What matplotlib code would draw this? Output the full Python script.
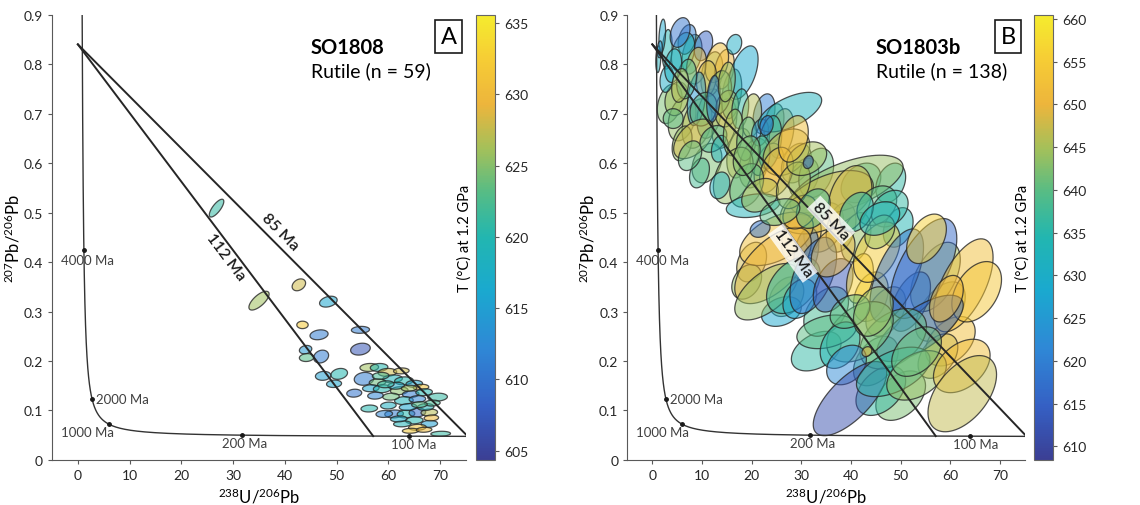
import numpy as np
import matplotlib
matplotlib.use("Agg")
import matplotlib.pyplot as plt
from matplotlib.patches import Polygon
from matplotlib.colors import LinearSegmentedColormap, Normalize
from matplotlib.cm import ScalarMappable

plt.rcParams['font.family'] = ['Lato', 'DejaVu Sans']
plt.rcParams['mathtext.default'] = 'regular'

# --- SO1808 rutile: centre, half-widths (x, y), error correlation, temperature
a_x = [26.8, 35.0, 42.7, 48.4, 43.4, 46.6, 54.6, 54.6, 44.0, 44.2, 47.0, 47.4, 50.5, 49.5, 53.4, 56.3, 70.1,
       56.3, 58.2, 55.3, 59.8, 60.8, 57.9, 63.0, 65.0, 66.3, 56.6, 58.8, 62.1, 64.3, 66.9, 69.5, 63.0,
       65.6, 61.1, 63.4, 65.6, 67.9, 63.8, 67.2, 65.0, 67.9, 62.7, 65.6, 64.3, 66.9, 59.2, 60.0, 58.5,
       61.5, 62.5, 60.5, 57.5, 68.5, 64.0, 62.0, 68.3, 66.0, 59.5]
a_y = [0.509, 0.322, 0.354, 0.320, 0.273, 0.253, 0.263, 0.224, 0.223, 0.207, 0.209, 0.170, 0.174, 0.154, 0.135, 0.104, 0.053,
       0.187, 0.187, 0.164, 0.177, 0.164, 0.157, 0.160, 0.154, 0.147, 0.145, 0.144, 0.140, 0.133, 0.137, 0.127, 0.120,
       0.123, 0.093, 0.093, 0.096, 0.096, 0.107, 0.107, 0.080, 0.073, 0.073, 0.066, 0.059, 0.061, 0.093, 0.110, 0.170,
       0.150, 0.180, 0.128, 0.130, 0.115, 0.145, 0.083, 0.085, 0.112, 0.153]
a_sx = [1.4, 1.95, 1.3, 1.7, 1.1, 1.75, 1.75, 1.9, 1.2, 1.4, 1.45, 1.5, 1.6, 1.45, 1.45, 1.6, 1.9,
        1.8, 1.7, 1.9, 1.8, 1.9, 1.6, 1.8, 1.6, 1.5, 1.6, 1.7, 1.7, 1.6, 1.6, 1.9, 1.8,
        1.6, 1.8, 1.7, 1.6, 1.6, 1.7, 1.6, 1.7, 1.6, 1.7, 1.7, 1.6, 1.5, 1.6, 1.5, 1.6,
        1.6, 1.5, 1.6, 1.5, 1.5, 1.5, 1.6, 1.4, 1.5, 1.6]
a_sy = [0.018, 0.019, 0.012, 0.011, 0.0075, 0.010, 0.007, 0.012, 0.0085, 0.008, 0.013, 0.009, 0.011, 0.0075, 0.008, 0.007, 0.005,
        0.008, 0.008, 0.013, 0.008, 0.008, 0.007, 0.008, 0.007, 0.006, 0.007, 0.008, 0.008, 0.007, 0.007, 0.008, 0.008,
        0.007, 0.008, 0.008, 0.009, 0.007, 0.007, 0.007, 0.007, 0.007, 0.006, 0.006, 0.005, 0.005, 0.007, 0.007, 0.007,
        0.007, 0.006, 0.007, 0.007, 0.006, 0.006, 0.006, 0.006, 0.006, 0.007]
a_rho = [0.75, 0.7, 0.3, 0.3, 0.0, 0.2, 0.1, 0.2, 0.2, 0.1, 0.2, 0.1, 0.2, 0.1, 0.1, 0.1, 0.1] + [0.1] * 42
a_temp = [621, 626, 628, 616, 632, 611, 611, 607, 614, 623, 611, 615, 620, 616, 610, 620, 621,
          626, 620, 611, 628, 619, 624, 620, 616, 631, 616, 620, 625, 611, 620, 621, 619,
          612, 611, 620, 609, 627, 616, 619, 620, 615, 619, 631, 632, 630, 612, 618, 622,
          617, 628, 624, 612, 622, 626, 617, 630, 623, 621]

# --- SO1803b rutile (drawn in list order, first ones lie underneath)
b_x = [3.5, 6.0, 9.0, 11.5, 14.5, 16.0, 8.0, 12.0, 14.5, 7.0, 11.0, 9.5, 6.0, 17.5, 20.5, 22.5, 24.5, 26.0,
       23.5, 29.0, 30.5, 33.0, 34.5, 30.0, 38.0, 41.0, 42.0, 48.0, 49.5, 44.0, 47.0, 58.0, 57.0, 60.0, 57.5,
       33.0, 35.0, 45.0, 50.0, 46.0, 27.0, 20.0, 19.0, 26.0, 31.0, 3.0, 52.0, 16.5,
       2.0, 1.2, 6.2, 5.6, 10.3, 8.9, 13.0, 10.9, 8.9, 4.9, 4.2, 6.9, 18.3, 13.6, 15.0, 17.7, 20.0, 10.3,
       8.3, 7.6, 12.3, 13.6, 16.3, 19.0, 21.7, 27.7, 23.7, 21.7, 27.0, 25.0, 16.3, 13.6, 19.0, 20.3, 21.7,
       39.1, 35.1, 39.8, 45.2, 47.8, 25.0, 24.3, 23.0, 28.4, 29.7, 32.4, 36.4, 36.4, 41.8, 45.2, 49.2,
       54.6, 62.6, 65.3, 53.9, 48.5, 41.8, 35.1, 37.8, 39.1, 39.8, 48.5, 53.2, 62.3, 62.4, 39.8, 44.5,
       53.2, 45.8, 29.7, 28.4, 32.4, 41.1, 45.8, 31.1, 2.9, 4.2, 5.6, 12.3, 15.0, 23.0, 31.4, 43.2,
       21.7, 28.4, 25.7, 19.0, 1.5, 55.2, 59.2]
b_y = [0.720, 0.690, 0.680, 0.700, 0.680, 0.740, 0.820, 0.780, 0.790, 0.850, 0.600, 0.580, 0.640, 0.620, 0.600, 0.700, 0.680, 0.660,
       0.590, 0.600, 0.570, 0.580, 0.470, 0.450, 0.470, 0.450, 0.560, 0.560, 0.470, 0.330, 0.300, 0.300, 0.370, 0.240, 0.210,
       0.220, 0.300, 0.200, 0.130, 0.140, 0.330, 0.400, 0.360, 0.300, 0.420, 0.830, 0.320, 0.840,
       0.857, 0.810, 0.824, 0.864, 0.837, 0.797, 0.803, 0.770, 0.730, 0.730, 0.690, 0.770, 0.783, 0.743, 0.710, 0.710, 0.696, 0.709,
       0.649, 0.615, 0.649, 0.629, 0.662, 0.649, 0.662, 0.703, 0.642, 0.615, 0.622, 0.582, 0.575, 0.555, 0.555, 0.514, 0.535,
       0.555, 0.521, 0.528, 0.514, 0.508, 0.447, 0.393, 0.340, 0.353, 0.326, 0.373, 0.353, 0.420, 0.367, 0.420, 0.373,
       0.387, 0.353, 0.340, 0.266, 0.245, 0.259, 0.259, 0.232, 0.192, 0.124, 0.178, 0.171, 0.190, 0.134, 0.300, 0.300,
       0.219, 0.461, 0.501, 0.555, 0.508, 0.501, 0.488, 0.609, 0.770, 0.797, 0.757, 0.730, 0.764, 0.676, 0.602, 0.219,
       0.467, 0.649, 0.501, 0.615, 0.830, 0.447, 0.326]
b_sx = [2.5, 2.8, 3.0, 2.5, 2.5, 2.0, 2.0, 2.2, 2.0, 1.8, 3.0, 2.0, 2.0, 2.5, 3.0, 2.2, 2.0, 2.5,
        3.0, 3.0, 3.0, 3.5, 4.0, 4.0, 3.0, 3.0, 4.0, 3.0, 3.0, 3.5, 4.0, 5.0, 5.0, 5.0, 4.0,
        5.0, 4.5, 4.5, 5.0, 5.0, 3.5, 3.0, 3.0, 4.0, 2.5, 1.0, 4.0, 1.5,
        0.67, 0.5, 2.35, 2.0, 1.85, 2.0, 2.35, 2.0, 1.85, 2.35, 2.0, 2.0, 3.0, 2.35, 2.35, 1.7, 2.0, 2.7,
        4.0, 2.35, 2.7, 1.7, 2.0, 2.0, 1.7, 6.4, 2.35, 2.0, 4.7, 3.4, 4.0, 2.0, 3.4, 5.4, 3.7,
        11.4, 9.4, 4.4, 4.0, 3.7, 7.4, 7.7, 6.4, 5.4, 3.4, 4.7, 4.0, 4.4, 2.7, 4.7, 5.4,
        6.7, 6.0, 5.0, 8.7, 6.7, 6.7, 6.0, 4.0, 4.0, 7.4, 7.4, 6.0, 5.7, 6.9, 4.0, 4.0,
        5.0, 3.0, 3.4, 3.4, 3.4, 3.4, 4.0, 4.0, 1.35, 1.7, 1.7, 1.35, 1.7, 1.35, 1.0, 1.0,
        2.0, 3.0, 4.0, 2.7, 0.5, 4.0, 3.4]
b_sy = [0.040, 0.045, 0.050, 0.050, 0.050, 0.050, 0.040, 0.045, 0.040, 0.030, 0.040, 0.030, 0.035, 0.050, 0.050, 0.040, 0.040, 0.050,
        0.050, 0.040, 0.040, 0.050, 0.050, 0.050, 0.050, 0.050, 0.040, 0.040, 0.040, 0.050, 0.050, 0.060, 0.070, 0.050, 0.045,
        0.040, 0.050, 0.050, 0.050, 0.050, 0.040, 0.040, 0.035, 0.030, 0.050, 0.040, 0.060, 0.020,
        0.034, 0.027, 0.040, 0.030, 0.030, 0.037, 0.040, 0.037, 0.054, 0.034, 0.020, 0.040, 0.054, 0.044, 0.037, 0.040, 0.044, 0.034,
        0.040, 0.030, 0.027, 0.027, 0.047, 0.044, 0.027, 0.040, 0.054, 0.040, 0.047, 0.050, 0.057, 0.027, 0.044, 0.024, 0.034,
        0.061, 0.064, 0.067, 0.040, 0.037, 0.054, 0.077, 0.057, 0.057, 0.040, 0.077, 0.054, 0.050, 0.050, 0.061, 0.094,
        0.101, 0.094, 0.061, 0.067, 0.061, 0.061, 0.034, 0.047, 0.040, 0.075, 0.050, 0.050, 0.054, 0.077, 0.034, 0.050,
        0.050, 0.034, 0.034, 0.047, 0.040, 0.040, 0.034, 0.034, 0.027, 0.034, 0.034, 0.047, 0.040, 0.020, 0.013, 0.010,
        0.017, 0.047, 0.027, 0.040, 0.017, 0.050, 0.047]
b_rho = [0.3] * 29 + [0.3, 0.4, 0.5, 0.5, 0.4, 0.4, 0.4, 0.4, 0.4, 0.4, 0.4, 0.3, 0.3, 0.3, 0.3, 0.3, 0.2, 0.5, 0.2] + \
        [0.3, 0.2, 0.3, 0.3, 0.3, 0.2, 0.3, 0.2, 0.3, 0.2, 0.0, 0.2, 0.5, 0.2, 0.2, 0.2, 0.2, 0.2,
         0.5, 0.3, 0.3, 0.2, 0.2, 0.2, 0.2, 0.6, 0.3, 0.2, 0.3, 0.3, 0.4, 0.2, 0.3, 0.3, 0.3,
         0.6, 0.5, 0.3, 0.3, 0.3, 0.5, 0.6, 0.6, 0.4, 0.3, 0.5, 0.4, 0.3, 0.3, 0.4, 0.6,
         0.6, 0.6, 0.4, 0.7, 0.4, 0.4, 0.3, 0.3, 0.3, 0.7, 0.5, 0.4, 0.4, 0.5, 0.3, 0.3,
         0.4, 0.3, 0.3, 0.3, 0.3, 0.3, 0.3, 0.3, 0.2, 0.2, 0.2, 0.2, 0.2, 0.2, 0.2, 0.2,
         0.2, 0.3, 0.3, 0.3, 0.2, 0.4, 0.4]
b_temp = [642, 644, 646, 638, 648, 640, 636, 644, 650, 620, 642, 638, 644, 646, 644, 620, 640, 650,
          652, 647, 642, 640, 652, 650, 646, 644, 638, 636, 634, 656, 648, 646, 645, 652, 648,
          636, 638, 640, 642, 636, 646, 648, 644, 628, 618, 634, 620, 630,
          628, 632, 634, 618, 615, 652, 652, 648, 625, 645, 640, 638, 628, 642, 646, 636, 646, 640,
          648, 640, 638, 632, 645, 640, 625, 632, 636, 640, 648, 651, 644, 632, 640, 633, 646,
          644, 648, 648, 640, 636, 652, 650, 644, 636, 628, 618, 613, 650, 656, 655, 618,
          616, 652, 654, 616, 640, 642, 640, 634, 622, 612, 636, 644, 652, 647, 640, 644,
          641, 644, 650, 646, 638, 635, 633, 645, 630, 632, 646, 620, 644, 618, 615, 650,
          618, 652, 640, 642, 625, 656, 650]

conc_ages = [4000, 2000, 1000, 200, 100]
disc_ages = [112, 85]
common_pb = 0.84

# parula-like colour map
parula = LinearSegmentedColormap.from_list('parula', [
    (0.00, '#3b3f94'), (0.12, '#3560c4'), (0.25, '#2f88d6'), (0.38, '#1aa9cf'),
    (0.50, '#22b6b0'), (0.60, '#55bc86'), (0.70, '#a4c05a'), (0.80, '#edb53c'),
    (0.90, '#f6cc35'), (1.00, '#f5ec2e')])

L238 = 1.55125e-10
L235 = 9.8485e-10


def tw_point(t_ma):
    t = np.asarray(t_ma) * 1e6
    e8 = np.exp(L238 * t) - 1
    e5 = np.exp(L235 * t) - 1
    return 1.0 / e8, e5 / (137.88 * e8)


def ellipse_xy(cx, cy, sx, sy, rho, n=80):
    t = np.linspace(0, 2 * np.pi, n)
    x = cx + sx * np.cos(t)
    y = cy + sy * (rho * np.cos(t) + np.sqrt(1 - rho ** 2) * np.sin(t))
    return np.column_stack([x, y])


def draw_panel(ax, cax, xs, ys, sxs, sys_, rhos, temps, vmin, vmax, cticks,
               alpha, name, n, letter, boxed_labels):
    norm = Normalize(vmin, vmax)

    for i in range(len(xs)):
        col = parula(norm(temps[i]))
        ax.add_patch(Polygon(ellipse_xy(xs[i], ys[i], sxs[i], sys_[i], rhos[i]), closed=True,
                             facecolor=(*col[:3], alpha), edgecolor=(0.15, 0.15, 0.15, 0.8),
                             linewidth=0.9, zorder=2))

    # concordia
    ages = np.concatenate([np.linspace(85.2, 300, 200), np.linspace(300, 5100, 400)])
    cx, cy = tw_point(ages)
    ax.plot(cx, cy, color='0.2', lw=1.0, zorder=3)
    px, py = tw_point(conc_ages)
    ax.plot(px, py, 'o', color='0.1', ms=2.5, zorder=4)
    offs = {4000: (-3.3, -0.02), 2000: (3.6, 0.0), 1000: (-3.3, -0.015),
            200: (27.8, -0.016), 100: (60.5, -0.016)}
    for age in conc_ages:
        ox, oy = offs[age]
        ax.text(ox, tw_point(age)[1] + oy, f'{age} Ma', fontsize=9.5, color='0.25',
                ha='left', va='center', zorder=5)

    # discordia from common Pb to lower intercept
    for age in disc_ages:
        x1, y1 = tw_point(age)
        ax.plot([0, x1], [common_pb, y1], color='0.15', lw=1.4, zorder=6)

    slope85 = (tw_point(85)[1] - common_pb) / tw_point(85)[0]
    slope112 = (tw_point(112)[1] - common_pb) / tw_point(112)[0]
    box = dict(boxstyle='square,pad=0.15', fc='white', ec='none', alpha=0.8) if boxed_labels else None
    if boxed_labels:
        p85, p112 = (36.0, 0.484), (28.3, 0.418)
    else:
        p85, p112 = (39.0, 0.462), (28.5, 0.412)
    ax.text(*p85, '85 Ma', rotation=np.degrees(np.arctan(slope85)), transform_rotates_text=True,
            rotation_mode='anchor', ha='center', va='center', fontsize=11.5, fontweight='semibold',
            color='0.1', bbox=box, zorder=7)
    ax.text(*p112, '112 Ma', rotation=np.degrees(np.arctan(slope112)), transform_rotates_text=True,
            rotation_mode='anchor', ha='center', va='center', fontsize=11.5, fontweight='semibold',
            color='0.1', bbox=box, zorder=7)

    ax.text(45, 0.835, name, fontsize=14.5, fontweight='bold', ha='left', va='center', zorder=8)
    ax.text(45, 0.788, f'Rutile (n = {n})', fontsize=14, ha='left', va='center', zorder=8)
    ax.text(71.6, 0.856, letter, fontsize=17, ha='center', va='center', zorder=8,
            bbox=dict(boxstyle='square,pad=0.25', fc='white', ec='0.1', lw=1.2))

    ax.set_xlim(-5, 75)
    ax.set_ylim(0, 0.9)
    ax.set_xticks(range(0, 71, 10))
    ax.set_yticks(np.arange(0, 0.91, 0.1))
    ax.set_yticklabels(['0'] + [f'{v:.1f}' for v in np.arange(0.1, 0.91, 0.1)])
    for s in ['top', 'right']:
        ax.spines[s].set_visible(False)
    for s in ['left', 'bottom']:
        ax.spines[s].set_color('0.35')
    ax.tick_params(direction='out', length=3, color='0.35', labelsize=10, labelcolor='0.15')
    ax.set_xlabel('$^{238}$U/$^{206}$Pb', fontsize=12, labelpad=4)
    ax.set_ylabel('$^{207}$Pb/$^{206}$Pb', fontsize=12, labelpad=1)

    cb = plt.colorbar(ScalarMappable(norm=norm, cmap=parula), cax=cax)
    cb.set_ticks(cticks)
    cb.ax.tick_params(labelsize=10, length=3, color='0.35', labelcolor='0.15')
    cb.outline.set_edgecolor('0.4')
    cb.ax.yaxis.set_label_position('left')
    cb.set_label('T (°C) at 1.2 GPa', fontsize=10.5, labelpad=3)


fig = plt.figure(figsize=(11.4, 5.06), dpi=100)
ax_a = fig.add_axes([0.0456, 0.089, 0.3632, 0.880])
cax_a = fig.add_axes([0.4175, 0.089, 0.0165, 0.880])
ax_b = fig.add_axes([0.5504, 0.089, 0.3486, 0.880])
cax_b = fig.add_axes([0.907, 0.089, 0.0165, 0.880])

draw_panel(ax_a, cax_a, a_x, a_y, a_sx, a_sy, a_rho, a_temp, 604.35, 635.6, range(605, 636, 5),
           0.55, 'SO1808', 59, 'A', False)
draw_panel(ax_b, cax_b, b_x, b_y, b_sx, b_sy, b_rho, b_temp, 608.4, 660.5, range(610, 661, 5),
           0.5, 'SO1803b', 138, 'B', True)

fig.savefig('out.png', dpi=100)
